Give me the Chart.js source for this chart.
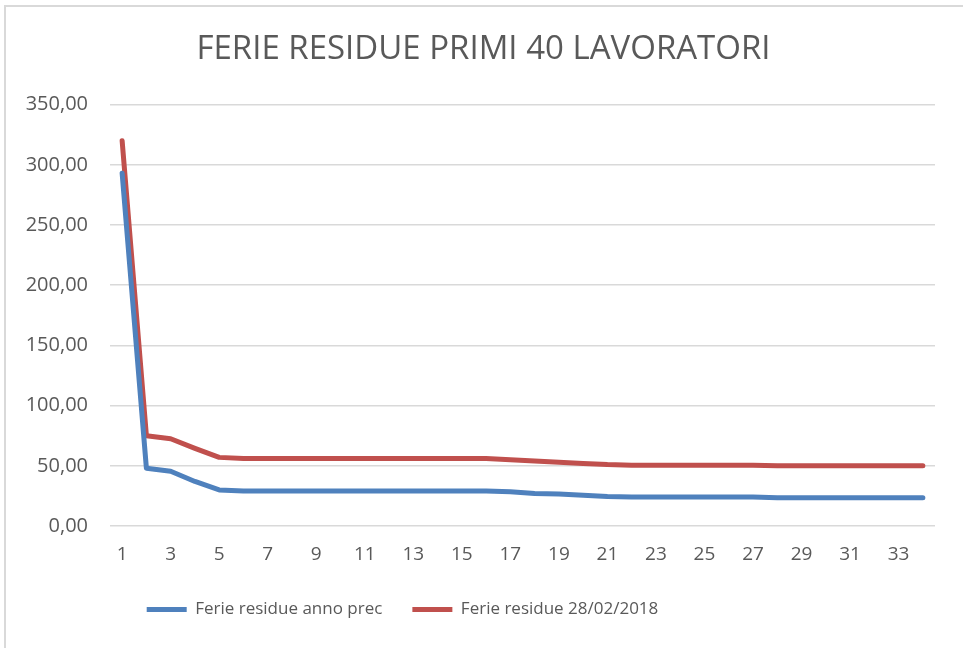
<!DOCTYPE html>
<html>
<head>
<meta charset="utf-8">
<script src="https://cdn.jsdelivr.net/npm/chart.js@4.4.1/dist/chart.umd.min.js"></script>
<style>
  html, body { margin:0; padding:0; background:#fff; overflow:hidden; }
  #frame { position:absolute; left:4px; top:5px; width:1000px; height:700px; border:2px solid #d9d9d9; box-sizing:border-box; }
  #wrap { position:absolute; left:0; top:0; width:963px; height:648px; }
</style>
</head>
<body>
<div id="frame"></div>
<div id="wrap"><canvas id="chart"></canvas></div>
<script>
'use strict';

// dati
const labels = Array.from({length: 34}, (_, i) => String(i + 1));
const ferieAnnoPrec = [293, 48, 45.5, 37, 30, 29, 29, 29, 29, 29, 29, 29, 29, 29, 29, 29,
  28.5, 27, 26.5, 25.5, 24.5, 24, 24, 24, 24, 24, 24, 23.5, 23.5, 23.5, 23.5, 23.5, 23.5, 23.5];
const ferie2018 = [320, 75, 72.5, 64.5, 57, 56, 56, 56, 56, 56, 56, 56, 56, 56, 56, 56,
  55, 54, 53, 52, 51, 50.5, 50.5, 50.5, 50.5, 50.5, 50.5, 50, 50, 50, 50, 50, 50, 50];
const yTicks = [0, 50, 100, 150, 200, 250, 300, 350];

const FONT = "'Open Sans', 'DejaVu Sans', sans-serif";
const GREY = '#595959';

const fmtIt = v => v.toFixed(2).replace('.', ',');

// in Excel titolo e legenda non sono centrati sullo stesso asse
const boxShift = {
  id: 'boxShift',
  afterLayout(chart) {
    const t = chart.titleBlock, lg = chart.legend;
    if (t) { t.left += 16; t.right += 16; }
    if (lg) { lg.left -= 65; lg.right -= 65; }
  }
};

new Chart(document.getElementById('chart'), {
  type: 'line',
  data: {
    labels,
    datasets: [
      { label: 'Ferie residue anno prec', data: ferieAnnoPrec, borderColor: '#4f81bd', backgroundColor: '#4f81bd',
        borderWidth: 5, pointRadius: 0, tension: 0, borderCapStyle: 'round', borderJoinStyle: 'round' },
      { label: 'Ferie residue 28/02/2018', data: ferie2018, borderColor: '#c0504d', backgroundColor: '#c0504d',
        borderWidth: 5, pointRadius: 0, tension: 0, borderCapStyle: 'round', borderJoinStyle: 'round' }
    ]
  },
  plugins: [boxShift],
  options: {
    responsive: true,
    maintainAspectRatio: false,
    animation: false,
    layout: { padding: { left: 0, right: 28, top: 0, bottom: 20 } },
    plugins: {
      title: { display: true, text: 'FERIE RESIDUE PRIMI 40 LAVORATORI', color: GREY,
        font: { family: FONT, size: 33, weight: 'normal' }, padding: { top: 30, bottom: 35 } },
      legend: { position: 'bottom',
        labels: { color: GREY, font: { family: FONT, size: 17 }, usePointStyle: true, pointStyle: 'line',
          pointStyleWidth: 40, padding: 30 } },
      tooltip: { enabled: false }
    },
    scales: {
      x: {
        offset: true,
        afterFit: s => { s.height = 45; },
        grid: { display: false },
        border: { display: false },
        ticks: { color: GREY, font: { family: FONT, size: 19 }, autoSkip: false, maxRotation: 0, padding: 9,
          callback: (v, i) => i % 2 === 0 ? labels[i] : '' }
      },
      y: {
        min: 0, max: 350,
        afterBuildTicks: s => { s.ticks = yTicks.map(v => ({ value: v })); },
        afterFit: s => { s.width = 110; },
        grid: { color: '#d9d9d9', lineWidth: 1.5, drawTicks: false },
        border: { display: false },
        ticks: { color: GREY, font: { family: FONT, size: 20 }, padding: 22, callback: v => fmtIt(v) }
      }
    }
  }
});
</script>
</body>
</html>
